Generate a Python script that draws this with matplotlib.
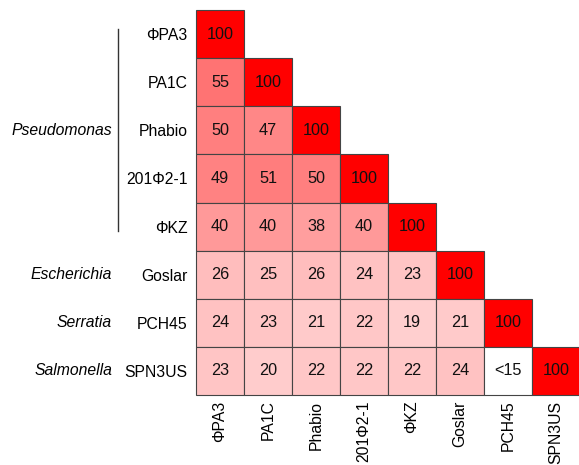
import numpy as np
import matplotlib
matplotlib.use("Agg")
import matplotlib.pyplot as plt
from matplotlib.colors import LinearSegmentedColormap
from matplotlib.patches import Rectangle
import matplotlib.transforms as mtransforms

plt.rcParams['font.family'] = ['Liberation Sans', 'DejaVu Sans']

# phage names (rows and columns)
phages = ['ΦPA3', 'PA1C', 'Phabio', '201Φ2-1', 'ΦKZ', 'Goslar', 'PCH45', 'SPN3US']

# lower triangle of the identity matrix, "<15" kept as text
identity = [
    [100],
    [55, 100],
    [50, 47, 100],
    [49, 51, 50, 100],
    [40, 40, 38, 40, 100],
    [26, 25, 26, 24, 23, 100],
    [24, 23, 21, 22, 19, 21, 100],
    [23, 20, 22, 22, 22, 24, '<15', 100],
]

# host genus labels: (name, row index)
genera = [('Pseudomonas', 2), ('Escherichia', 5), ('Serratia', 6), ('Salmonella', 7)]

n = len(phages)
W, H = 579, 465
fs = 11.3

cmap = LinearSegmentedColormap.from_list('wr', ['#ffffff', '#ff0000'])

fig = plt.figure(figsize=(W / 100, H / 100), dpi=100)
ax = fig.add_axes([196 / W, 1 - 395 / H, 384 / W, 385 / H])
ax.set_xlim(0, n)
ax.set_ylim(n, 0)
for s in ax.spines.values():
    s.set_visible(False)

for i, row in enumerate(identity):
    for j, v in enumerate(row):
        val = 0 if isinstance(v, str) else v
        ax.add_patch(Rectangle((j, i), 1, 1, facecolor=cmap(val / 100),
                               edgecolor='#444444', linewidth=0.8, clip_on=False))
        ax.text(j + 0.5, i + 0.5, str(v), ha='center', va='center', fontsize=fs + 0.4, color='#111111')

ax.set_xticks(np.arange(n) + 0.5)
ax.set_xticklabels(phages, rotation=90, fontsize=fs, va='top')
ax.set_yticks(np.arange(n) + 0.5)
ax.set_yticklabels(phages, fontsize=fs)
ax.tick_params(axis='y', length=0, pad=6)
ax.tick_params(axis='x', length=0, pad=4)

# genus labels on the left
trans = mtransforms.blended_transform_factory(fig.transFigure, ax.transData)
for name, r in genera:
    fig.text(112 / W, r + 0.5, name, transform=trans, ha='right', va='center',
             fontsize=fs, style='italic')
ax.plot([118 / W, 118 / W], [0.4, 4.6], transform=trans, color='#333333',
        lw=1.0, clip_on=False)

fig.savefig('out.png', dpi=100)
